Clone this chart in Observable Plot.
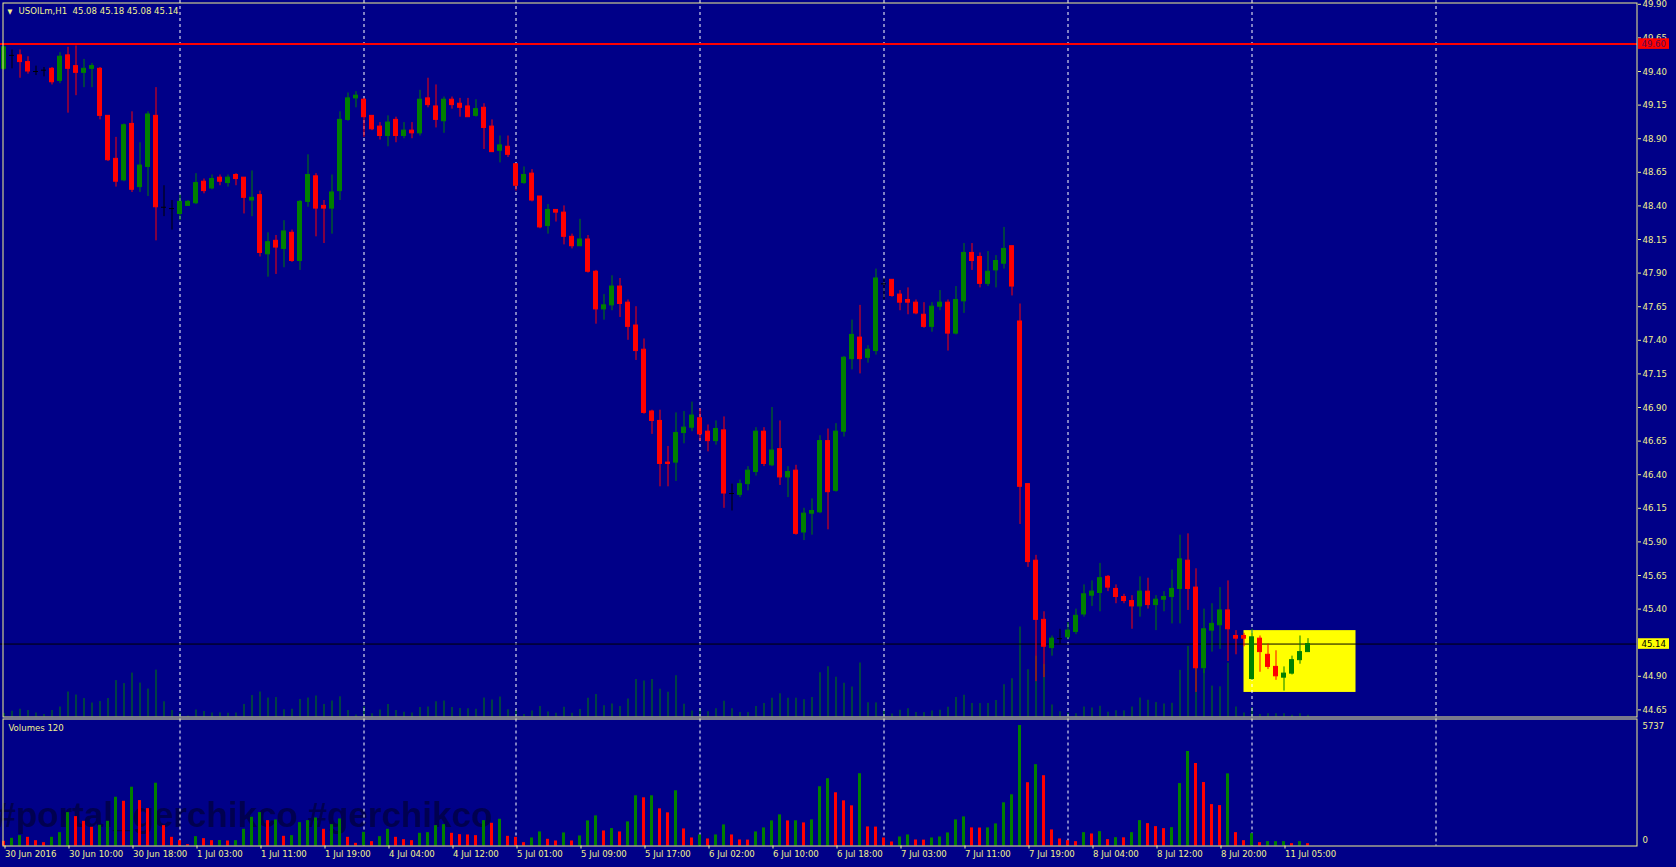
<!DOCTYPE html>
<html><head><meta charset="utf-8">
<script src="https://cdn.jsdelivr.net/npm/d3@7"></script>
<script src="https://cdn.jsdelivr.net/npm/@observablehq/plot@0.6"></script>
<style>
html,body{margin:0;padding:0;background:#000088;overflow:hidden;}
#chart{position:relative;width:1676px;height:867px;background:#000088;overflow:hidden;}
#chart svg{position:absolute;left:0;}
</style></head>
<body><div id="chart"></div>
<script>
// ---------------- data ----------------
const symbol = "USOILm", timeframe = "H1";
const open = [
49.42,49.52,49.52,49.47,49.40,49.41,49.42,49.33,49.52,49.44,
49.39,49.42,49.42,49.07,48.75,48.59,49.01,48.54,48.69,49.07,
48.39,48.38,48.34,48.40,48.42,48.58,48.53,48.61,48.57,48.63,
48.61,48.44,48.48,48.04,48.14,48.08,48.20,47.99,48.43,48.62,
48.40,48.38,48.51,49.04,49.20,49.19,49.07,48.99,48.92,49.04,
48.92,48.96,48.94,49.20,49.14,49.03,49.19,49.16,49.14,49.07,
49.13,48.99,48.81,48.84,48.71,48.57,48.64,48.47,48.25,48.37,
48.35,48.17,48.10,48.15,47.91,47.63,47.66,47.80,47.68,47.51,
47.33,46.87,46.80,46.49,46.49,46.71,46.75,46.82,46.72,46.65,
46.73,46.26,46.25,46.33,46.42,46.72,46.47,46.59,46.38,46.43,
45.97,46.11,46.12,46.65,46.28,46.72,47.26,47.42,47.27,47.32,
47.82,47.85,47.74,47.70,47.68,47.59,47.50,47.65,47.68,47.45,
47.69,48.05,48.02,47.82,47.92,47.97,48.10,47.54,46.33,45.76,
45.32,45.11,45.18,45.19,45.23,45.36,45.50,45.52,45.64,45.55,
45.49,45.46,45.42,45.53,45.43,45.47,45.49,45.55,45.76,45.56,
44.96,45.24,45.28,45.39,45.20,45.20,44.88,45.18,45.06,44.97,
44.89,44.92,45.02,45.08];
const high = [
49.59,49.56,49.56,49.51,49.44,49.43,49.43,49.54,49.58,49.59,
49.49,49.46,49.43,49.07,48.91,49.01,49.10,48.87,49.10,49.28,
48.55,48.44,48.48,48.44,48.64,48.60,48.63,48.63,48.63,48.64,
48.61,48.66,48.51,48.20,48.18,48.29,48.22,48.44,48.78,48.64,
48.44,48.63,49.10,49.24,49.25,49.20,49.07,49.02,49.07,49.06,
49.02,49.02,49.26,49.35,49.30,49.21,49.21,49.20,49.20,49.19,
49.16,49.04,48.92,48.92,48.71,48.69,48.67,48.47,48.41,48.37,
48.40,48.19,48.30,48.18,47.92,47.74,47.88,47.86,47.70,47.65,
47.41,46.88,46.88,46.61,46.86,46.87,46.94,46.89,46.77,46.80,
46.83,46.33,46.36,46.46,46.75,46.75,46.90,46.80,46.46,46.47,
46.15,46.22,46.69,46.74,46.78,47.28,47.55,47.66,47.36,47.93,
47.86,47.85,47.77,47.79,47.70,47.68,47.68,47.77,47.70,47.80,
48.12,48.12,48.05,48.06,48.03,48.24,48.10,47.67,46.33,45.80,
45.38,45.20,45.25,45.30,45.40,45.58,45.61,45.74,45.65,45.58,
45.51,45.50,45.64,45.63,45.50,45.53,45.69,45.95,45.96,45.70,
45.40,45.44,45.56,45.61,45.24,45.22,45.25,45.20,45.14,45.09,
44.97,45.05,45.20,45.18];
const low = [
49.41,49.42,49.35,49.38,49.37,49.36,49.30,49.31,49.09,49.22,
49.28,49.28,49.04,48.73,48.54,48.58,48.50,48.50,48.47,48.14,
48.32,48.22,48.29,48.40,48.41,48.49,48.52,48.55,48.54,48.55,
48.34,48.32,48.02,47.87,47.89,47.94,47.98,47.92,48.39,48.17,
48.12,48.19,48.44,49.03,49.13,48.91,48.96,48.89,48.84,48.87,
48.90,48.90,48.92,49.13,48.98,48.94,49.12,49.06,49.06,49.06,
48.82,48.80,48.72,48.76,48.51,48.56,48.43,48.23,48.19,48.28,
48.11,48.08,48.10,47.90,47.52,47.55,47.62,47.57,47.40,47.25,
46.85,46.70,46.31,46.31,46.35,46.63,46.72,46.65,46.57,46.62,
46.15,46.13,46.23,46.28,46.39,46.46,46.46,46.32,46.23,45.95,
45.91,45.95,46.11,45.99,46.27,46.68,47.18,47.15,47.23,47.29,
47.70,47.72,47.62,47.59,47.59,47.49,47.46,47.62,47.32,47.44,
47.60,47.92,47.79,47.80,47.79,47.93,47.73,46.03,45.71,44.86,
44.89,45.05,45.14,45.17,45.21,45.34,45.42,45.38,45.53,45.44,
45.44,45.25,45.34,45.40,45.24,45.38,45.29,45.29,45.39,44.78,
44.92,45.08,45.10,45.01,45.06,45.12,44.87,44.93,44.95,44.87,
44.79,44.91,44.99,45.08];
const close = [
49.58,49.52,49.47,49.40,49.40,49.41,49.32,49.51,49.42,49.39,
49.42,49.44,49.07,48.74,48.58,49.00,48.52,48.70,49.08,48.39,
48.39,48.38,48.43,48.43,48.57,48.51,48.60,48.58,48.61,48.60,
48.46,48.46,48.05,48.13,48.09,48.21,47.99,48.43,48.63,48.38,
48.38,48.50,49.04,49.20,49.22,49.06,48.97,48.92,49.02,48.92,
48.96,48.94,49.19,49.15,49.04,49.19,49.15,49.13,49.06,49.12,
48.98,48.80,48.85,48.78,48.55,48.63,48.44,48.24,48.37,48.35,
48.17,48.10,48.15,47.91,47.63,47.66,47.80,47.67,47.50,47.32,
46.86,46.80,46.48,46.48,46.71,46.75,46.84,46.70,46.65,46.74,
46.26,46.26,46.33,46.43,46.72,46.48,46.58,46.38,46.42,45.96,
46.11,46.13,46.65,46.27,46.72,47.27,47.44,47.26,47.33,47.86,
47.82,47.73,47.68,47.68,47.60,47.50,47.65,47.68,47.45,47.70,
48.05,47.99,47.82,47.91,47.99,48.08,47.80,46.31,45.75,45.32,
45.12,45.18,45.18,45.24,45.35,45.51,45.53,45.63,45.56,45.49,
45.46,45.42,45.53,45.43,45.47,45.49,45.55,45.77,45.55,44.96,
45.25,45.29,45.39,45.25,45.18,45.18,45.19,45.08,44.97,44.90,
44.92,45.02,45.08,45.14];
const volume = [
223,366,493,413,254,159,413,636,1590,1399,
1176,890,986,1176,2321,2130,2798,2162,1780,2989,
970,413,254,64,445,350,254,262,240,254,
795,1367,1590,1208,1240,461,493,1113,1208,1335,
795,1017,1288,413,127,652,207,445,795,413,
302,254,604,636,970,1017,604,540,525,493,
1208,1081,1272,461,413,159,382,669,319,239,
622,239,478,1195,1434,717,829,669,1147,2390,
2295,2390,1769,1578,2629,813,382,526,335,526,
1004,526,287,280,669,861,1195,1482,1195,1200,
1100,1243,2821,3203,2534,2151,1912,3442,908,900,
382,191,430,526,287,280,382,430,622,1243,
1386,861,855,861,1052,2056,2438,5737,3012,3872,
3347,765,335,254,207,636,572,683,302,397,
390,636,1208,1065,922,827,874,2973,4499,3927,
3021,1971,1924,3434,636,254,588,159,207,207,
208,111,207,111];
const volumeBefore = 300;          // volume of the bar just left of the window
const volumeMax = 5737;
const timeTicks  = [0,8,16,24,32,40,48,56,64,72,80,88,96,104,112,120,128,136,144,152,160];
const timeLabels = ["30 Jun 2016","30 Jun 10:00","30 Jun 18:00","1 Jul 03:00","1 Jul 11:00","1 Jul 19:00",
  "4 Jul 04:00","4 Jul 12:00","5 Jul 01:00","5 Jul 09:00","5 Jul 17:00","6 Jul 02:00","6 Jul 10:00",
  "6 Jul 18:00","7 Jul 03:00","7 Jul 11:00","7 Jul 19:00","8 Jul 04:00","8 Jul 12:00","8 Jul 20:00","11 Jul 05:00"];
const priceTicks = [49.90,49.65,49.40,49.15,48.90,48.65,48.40,48.15,47.90,47.65,47.40,47.15,46.90,46.65,46.40,46.15,45.90,45.65,45.40,44.90,44.65];
const daySeparators = [22,45,64,87,110,133,156,179];
const resistance = 49.604;
const bid = 45.14;
const zone = {from:155, to:169, top:45.24, bottom:44.78};
const watermark = "#portal_gerchikco #gerchikco";

// ---------------- style ----------------
const UP = "#008000", DOWN = "#ff0000", FLAT = "#000000";
const FG = "#f2f290";
const FONT = "'DejaVu Sans Condensed','DejaVu Sans',sans-serif";
const W = 1676, AXIS_X = 1637;
const xDomain = [-3.5/8, (AXIS_X-3.5)/8];   // 8 px per bar

const candles = open.map((o,i)=>({
  i, o, h:high[i], l:low[i], c:close[i], v:volume[i],
  dir: close[i]>o ? "up" : close[i]<o ? "down" : "flat",
  vup: volume[i] >= (i ? volume[i-1] : volumeBefore)
}));
const ups = candles.filter(d=>d.dir==="up"), downs = candles.filter(d=>d.dir==="down"), flats = candles.filter(d=>d.dir==="flat");

const base = {
  width: W, marginLeft: 0, marginRight: W-AXIS_X,
  x: {domain: xDomain, axis: null},
  style: {background:"transparent", color: FG, fontFamily: FONT, fontSize:"9.5px", fontStretch:"condensed", overflow:"visible"}
};
const chart = document.getElementById("chart");

// volumes overlaid on the price panel
const overlay = Plot.plot({...base, height: 718, marginTop: 626.5, marginBottom: 1.5,
  y: {domain:[0, volumeMax], axis:null},
  marks: [Plot.ruleX(candles, {x:"i", y1:0, y2:"v", stroke: UP})]
});
overlay.style.top = "0px";
chart.appendChild(overlay);

// price panel
const body = (data, color) => Plot.rect(data, {x1:d=>d.i-0.25, x2:d=>d.i+0.25,
  y1:d=>Math.min(d.o,d.c), y2:d=>Math.max(d.o,d.c), fill:color, stroke:color, strokeWidth:1});
const last = candles[candles.length-1];
const main = Plot.plot({...base, height: 718, marginTop: 0, marginBottom: 1.5,
  y: {domain:[44.5972, 49.9283], axis:null},
  marks: [
    Plot.rect([zone], {x1:"from", x2:"to", y1:"bottom", y2:"top", fill:"#ffff00"}),
    Plot.ruleX(daySeparators, {stroke:"#ffffff", strokeDasharray:"3,3"}),
    Plot.ruleY([bid], {stroke:"#000000"}),
    Plot.ruleY([resistance], {stroke:"#ff0000", strokeWidth:2}),
    Plot.ruleX(ups, {x:"i", y1:"l", y2:"h", stroke:UP}),
    Plot.ruleX(downs, {x:"i", y1:"l", y2:"h", stroke:DOWN}),
    Plot.ruleX(flats, {x:"i", y1:"l", y2:"h", stroke:FLAT}),
    body(ups, UP), body(downs, DOWN),
    Plot.ruleY(flats, {y:"o", x1:d=>d.i-0.3125, x2:d=>d.i+0.3125, stroke:FLAT}),
    Plot.frame({stroke:FG, insetLeft:2.5, insetTop:2.5, insetRight:0.5}),
    Plot.axisY({anchor:"right", ticks: priceTicks, tickFormat:d=>d.toFixed(2), tickSize:3, tickPadding:2, label:null}),
    Plot.text(["\u25BC"], {frameAnchor:"top-left", dx:7, dy:11, lineAnchor:"middle", textAnchor:"start", fontSize:7, fill:FG}),
    Plot.text([`${symbol},${timeframe}\u00a0\u00a0${[last.o,last.h,last.l,last.c].map(v=>v.toFixed(2)).join(" ")}`],
      {frameAnchor:"top-left", dx:18, dy:10.7, lineAnchor:"middle", textAnchor:"start", fill:FG})
  ]
});
main.style.top = "0px";
chart.appendChild(main);

function priceTag(plot, price, bg, fg) {
  const y = plot.scale("y").apply(price);
  const s = d3.select(plot);
  s.append("rect").attr("x", AXIS_X+1).attr("y", y-5.3).attr("width", 31).attr("height", 10.6).attr("fill", bg);
  s.append("text").attr("x", AXIS_X+4.5).attr("y", y).attr("dy", "0.35em").attr("fill", fg)
    .attr("text-anchor", "start")
    .attr("font-family", FONT).attr("font-size", "9.5px").attr("font-stretch","condensed").text(price.toFixed(2));
}
priceTag(main, resistance, "#ff0000", "#5a0a50");
priceTag(main, bid, "#ffff00", "#000000");

// volume panel
const tickMap = new Map(timeTicks.map((t,k)=>[t, timeLabels[k]]));
const vbar = (data, color) => Plot.rect(data, {x1:d=>d.i-0.1875, x2:d=>d.i+0.1875, y1:0, y2:"v", fill:color});
const vol = Plot.plot({...base, height: 151, marginTop: 9, marginBottom: 21.5,
  y: {domain:[0, volumeMax], axis:null},
  marks: [
    Plot.text([watermark], {frameAnchor:"bottom-left", dx:-4, dy:-30.7, lineAnchor:"middle", textAnchor:"start",
      fontSize:35, fontWeight:"bold", fontFamily:"'Liberation Sans',Arial,sans-serif", fill:"#000000", fillOpacity:0.42}),
    Plot.ruleX(daySeparators, {stroke:"#ffffff", strokeDasharray:"3,3", insetTop:-6.5}),
    vbar(candles.filter(d=>d.vup), UP),
    vbar(candles.filter(d=>!d.vup), DOWN),
    Plot.frame({stroke:FG, insetLeft:2.5, insetTop:-6.5, insetRight:0.5}),
    Plot.axisX({anchor:"bottom", ticks: timeTicks, tickFormat: t=>tickMap.get(t), tickSize:3, tickPadding:1.5, textAnchor:"start", dx:1, label:null}),
    Plot.text(["Volumes 120"], {frameAnchor:"top-left", dx:8, dy:2.7, lineAnchor:"middle", textAnchor:"start", fill:FG}),
    Plot.text([volumeMax], {x: xDomain[1], y: volumeMax, dx:5, dy:0.7, textAnchor:"start", text:d=>String(d), fill:FG}),
    Plot.text([0], {x: xDomain[1], y: 0, dx:5, dy:-6.2, textAnchor:"start", text:d=>String(d), fill:FG})
  ]
});
vol.style.top = "716px";
chart.appendChild(vol);
</script>
</body></html>
